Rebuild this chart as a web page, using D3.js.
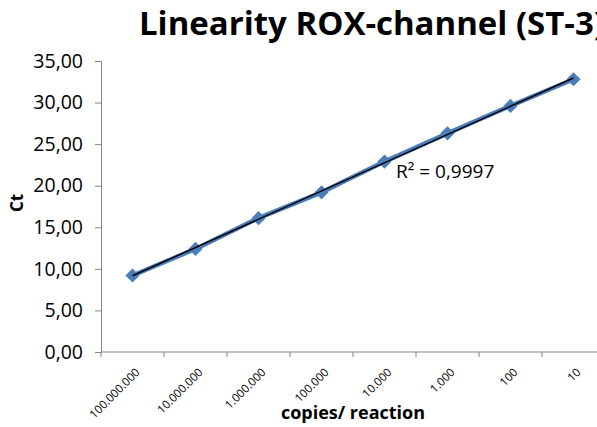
<!DOCTYPE html>
<html><head><meta charset="utf-8">
<script src="https://cdn.jsdelivr.net/npm/d3@7"></script>
<style>body{margin:0;background:#fff}svg{display:block}</style>
</head><body>
<svg id="c" width="597" height="427"></svg>
<script>
const categories = ["100.000.000","10.000.000","1.000.000","100.000","10.000","1.000","100","10"];
const ctValues = [9.2, 12.4, 16.1, 19.2, 22.9, 26.3, 29.6, 32.8];
const yTicks = [0,5,10,15,20,25,30,35];
const title = "Linearity ROX-channel (ST-3)";
const r2Label = "R² = 0,9997";

const svg = d3.select("#c");
const mLeft = 101, mRight = 605, mTop = 61, mBottom = 352;
const x = d3.scaleBand().domain(categories).range([mLeft, mRight]);
const y = d3.scaleLinear().domain([0,35]).range([mBottom, mTop]);
const fmt = v => v.toFixed(2).replace(".", ",");
const FF = "Open Sans, sans-serif";

// y axis
const ya = svg.append("g").attr("transform", `translate(${mLeft},0)`)
  .call(d3.axisLeft(y).tickValues(yTicks).tickFormat(fmt).tickSize(6).tickPadding(12));
ya.select(".domain").attr("stroke", "#868686");
ya.selectAll(".tick line").attr("stroke", "#868686");
ya.selectAll(".tick text").attr("font-family", FF).attr("font-size", 19.5).attr("fill", "#000");

// x axis
const xa = svg.append("g").attr("transform", `translate(0,${mBottom})`);
xa.append("line").attr("x1", mLeft).attr("x2", mRight).attr("stroke", "#868686");
xa.selectAll("line.tk").data(categories).join("line").attr("class","tk")
  .attr("x1", d => x(d)).attr("x2", d => x(d)).attr("y1", 0).attr("y2", 5).attr("stroke", "#868686");
xa.selectAll("text").data(categories).join("text")
  .attr("transform", d => `translate(${x(d) + x.bandwidth()/2 + 8},${21}) rotate(-45)`)
  .attr("text-anchor", "end").attr("font-family", FF).attr("font-size", 11.5).attr("fill", "#000")
  .text(d => d);

// data line
const cx = d => x(d) + x.bandwidth()/2;
const pts = categories.map((c,i) => [cx(c), y(ctValues[i])]);
svg.append("path").attr("d", d3.line()(pts)).attr("fill","none").attr("stroke","#4a7ebb").attr("stroke-width",4.5);
svg.selectAll("path.mk").data(pts).join("path").attr("class","mk")
  .attr("d", d3.symbol(d3.symbolSquare, 100)())
  .attr("transform", d => `translate(${d[0]},${d[1]}) rotate(45)`)
  .attr("fill","#4a7ebb");

// linear trendline
const n = ctValues.length, xs = d3.range(1, n+1);
const mx = d3.mean(xs), my = d3.mean(ctValues);
const slope = d3.sum(xs.map((v,i)=>(v-mx)*(ctValues[i]-my))) / d3.sum(xs.map(v=>(v-mx)**2));
const icpt = my - slope*mx;
svg.append("line")
  .attr("x1", cx(categories[0])).attr("y1", y(icpt + slope*1))
  .attr("x2", cx(categories[n-1])).attr("y2", y(icpt + slope*n))
  .attr("stroke","#000").attr("stroke-width",1.5);

svg.append("text").attr("x", 396).attr("y", 178).attr("font-family", FF)
  .attr("font-size", 19).attr("fill","#000").text(r2Label);

// titles
svg.append("text").attr("x", 139).attr("y", 35).attr("font-family", FF)
  .attr("font-weight","bold").attr("font-size", 32).attr("fill","#000")
  .attr("textLength", 466).attr("lengthAdjust","spacingAndGlyphs").text(title);
svg.append("text").attr("transform","translate(23,203) rotate(-90)").attr("text-anchor","middle")
  .attr("font-family", FF).attr("font-weight","bold").attr("font-size",17).text("Ct");
svg.append("text").attr("x", 353).attr("y", 419).attr("text-anchor","middle")
  .attr("font-family", FF).attr("font-weight","bold").attr("font-size",18).text("copies/ reaction");
</script>
</body></html>
